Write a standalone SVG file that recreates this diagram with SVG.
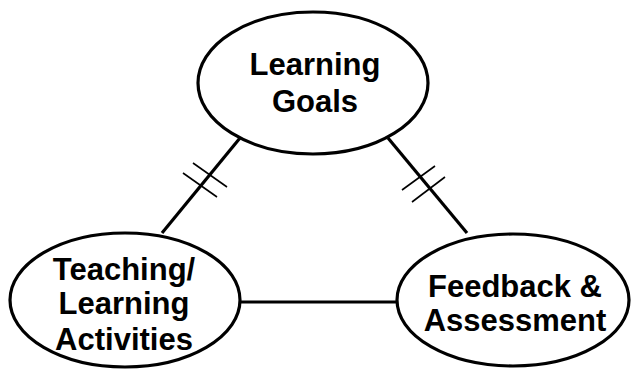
<svg xmlns="http://www.w3.org/2000/svg" width="631" height="369" viewBox="0 0 631 369">
<style>
.node{fill:#fff;stroke:#000;stroke-width:3.2}
.lbl{font-family:"Liberation Sans",Arial,sans-serif;font-weight:bold;font-size:31px;fill:#000;text-anchor:middle}
.edge{stroke:#000;stroke-width:3.2;fill:none}
.tick{stroke:#000;stroke-width:1.6;fill:none}
</style>
<rect width="631" height="369" fill="#fff"/>
<g id="connectors">
<line class="edge" x1="240" y1="138" x2="162" y2="233"/>
<line class="edge" x1="388" y1="138" x2="467" y2="233"/>
<line class="edge" x1="240" y1="302" x2="397" y2="302"/>
<line class="tick" x1="183" y1="173" x2="217" y2="197"/>
<line class="tick" x1="193" y1="163" x2="227" y2="187"/>
<line class="tick" x1="402" y1="190" x2="435" y2="166"/>
<line class="tick" x1="412" y1="202" x2="445" y2="177"/>
</g>
<g id="goals">
<ellipse class="node" cx="313" cy="83" rx="115" ry="71"/>
<text class="lbl" x="315" y="75">Learning</text>
<text class="lbl" x="315" y="112">Goals</text>
</g>
<g id="activities">
<ellipse class="node" cx="125" cy="300" rx="115" ry="67"/>
<text class="lbl" x="124" y="280">Teaching/</text>
<text class="lbl" x="124" y="314">Learning</text>
<text class="lbl" x="124" y="350">Activities</text>
</g>
<g id="feedback">
<ellipse class="node" cx="513" cy="300" rx="116" ry="66"/>
<text class="lbl" x="515" y="297">Feedback &amp;</text>
<text class="lbl" x="515" y="331">Assessment</text>
</g>
</svg>
